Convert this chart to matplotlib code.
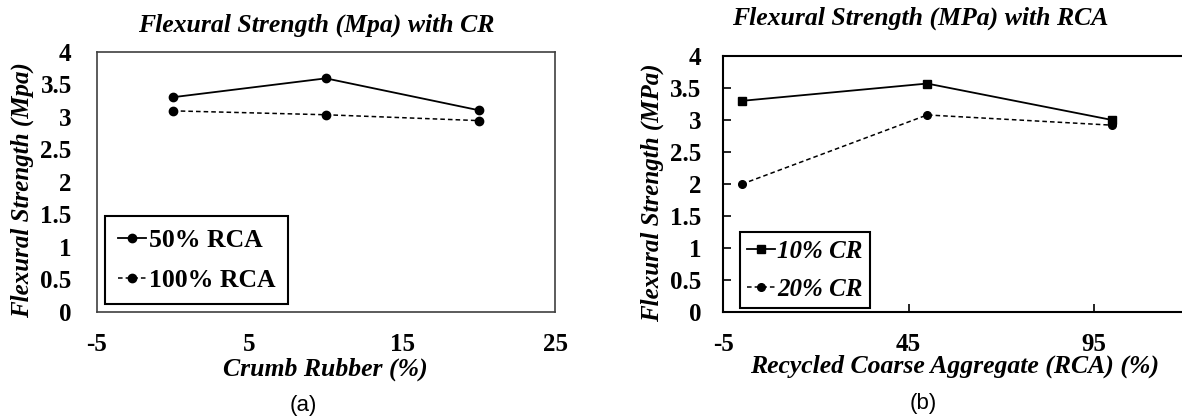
import matplotlib
matplotlib.use("Agg")
import matplotlib.pyplot as plt

plt.rcParams['font.family'] = ['Liberation Serif', 'DejaVu Serif']
plt.rcParams['axes.unicode_minus'] = False

# (a) flexural strength vs crumb rubber
cr_pct = [0, 10, 20]
rca50 = [3.30, 3.59, 3.10]
rca100 = [3.09, 3.03, 2.94]

# (b) flexural strength vs RCA
rca_pct = [0, 50, 100]
cr10 = [3.30, 3.57, 3.00]
cr20 = [2.00, 3.08, 2.92]

W, H = 1182, 418
fig = plt.figure(figsize=(W / 100, H / 100), dpi=100, facecolor='w')


def px(x, y):
    return x / W, 1 - y / H


bi = dict(fontweight='bold', fontstyle='italic')
yticks = [0, 0.5, 1, 1.5, 2, 2.5, 3, 3.5, 4]
ylabels = ['0', '0.5', '1', '1.5', '2', '2.5', '3', '3.5', '4']

# ---- left panel
ax1 = fig.add_axes([96.7 / W, 1 - 311.7 / H, (555 - 96.7) / W, 260 / H])
ax1.plot(cr_pct, rca50, '-o', color='k', lw=1.3, ms=6, label='50% RCA')
ax1.plot(cr_pct, rca100, linestyle=(0, (3, 2)), marker='o', color='k', lw=1.1, ms=6,
         label='100% RCA')
ax1.set_xlim(-5, 25)
ax1.set_ylim(0, 4)
ax1.set_xticks([-5, 5, 15, 25])
ax1.set_yticks(yticks)
ax1.set_yticklabels(ylabels)
ax1.tick_params(length=0, labelsize=18, pad=18)
ax1.tick_params(axis='x', pad=15)
for lab in ax1.get_xticklabels() + ax1.get_yticklabels():
    lab.set_fontweight('bold')
for s in ax1.spines.values():
    s.set_color('#404040')
    s.set_linewidth(1.2)
leg1 = ax1.legend(loc='lower left', bbox_to_anchor=(0.018, 0.028), borderaxespad=0,
                  fancybox=False, edgecolor='k', framealpha=1, handlelength=1.1,
                  handletextpad=0.1, labelspacing=0.65, borderpad=0.5,
                  prop=dict(family='Liberation Serif', weight='bold', size=18.5))
leg1.get_frame().set_linewidth(1.5)

fig.text(*px(316, 25), 'Flexural Strength (Mpa) with CR', ha='center', va='center',
         fontsize=18.5, **bi)
fig.text(*px(22, 190), 'Flexural Strength (Mpa)', ha='center', va='center',
         rotation=90, fontsize=18, **bi)
fig.text(*px(325, 369), 'Crumb Rubber (%)', ha='center', va='center', fontsize=18.5, **bi)
fig.text(*px(303, 406), '(a)', ha='center', va='center', fontsize=16,
         family='Liberation Sans')

# ---- right panel
ax2 = fig.add_axes([723.3 / W, 1 - 312.3 / H, (1279.3 - 723.3) / W, (312.3 - 56) / H])
ax2.plot(rca_pct, cr10, '-s', color='k', lw=1.3, ms=6, label='10% CR')
ax2.plot(rca_pct, cr20, linestyle=(0, (3, 2)), marker='o', color='k', lw=1.1, ms=5.5,
         label='20% CR')
ax2.set_xlim(-5, 145)
ax2.set_ylim(0, 4)
ax2.set_xticks([-5, 45, 95])
ax2.set_yticks(yticks)
ax2.set_yticklabels(ylabels)
ax2.tick_params(direction='in', length=6, width=1.2, labelsize=18, pad=16)
ax2.tick_params(axis='x', pad=15)
for lab in ax2.get_xticklabels() + ax2.get_yticklabels():
    lab.set_fontweight('bold')
for s in ax2.spines.values():
    s.set_color('k')
    s.set_linewidth(1.5)
leg2 = ax2.legend(loc='lower left', bbox_to_anchor=(0.03, 0.015), borderaxespad=0,
                  fancybox=False, edgecolor='k', framealpha=1, handlelength=1.1,
                  handletextpad=0.1, labelspacing=0.6, borderpad=0.3,
                  prop=dict(family='Liberation Serif', weight='bold', style='italic', size=18))
leg2.get_frame().set_linewidth(1.5)

fig.text(*px(920, 18), 'Flexural Strength (MPa) with RCA', ha='center', va='center',
         fontsize=18.5, **bi)
fig.text(*px(652, 193), 'Flexural Strength (MPa)', ha='center', va='center',
         rotation=90, fontsize=18, **bi)
fig.text(*px(955, 366), 'Recycled Coarse Aggregate (RCA) (%)', ha='center', va='center',
         fontsize=18.5, **bi)
fig.text(*px(923, 404), '(b)', ha='center', va='center', fontsize=16,
         family='Liberation Sans')

fig.savefig('out.png', dpi=100)
